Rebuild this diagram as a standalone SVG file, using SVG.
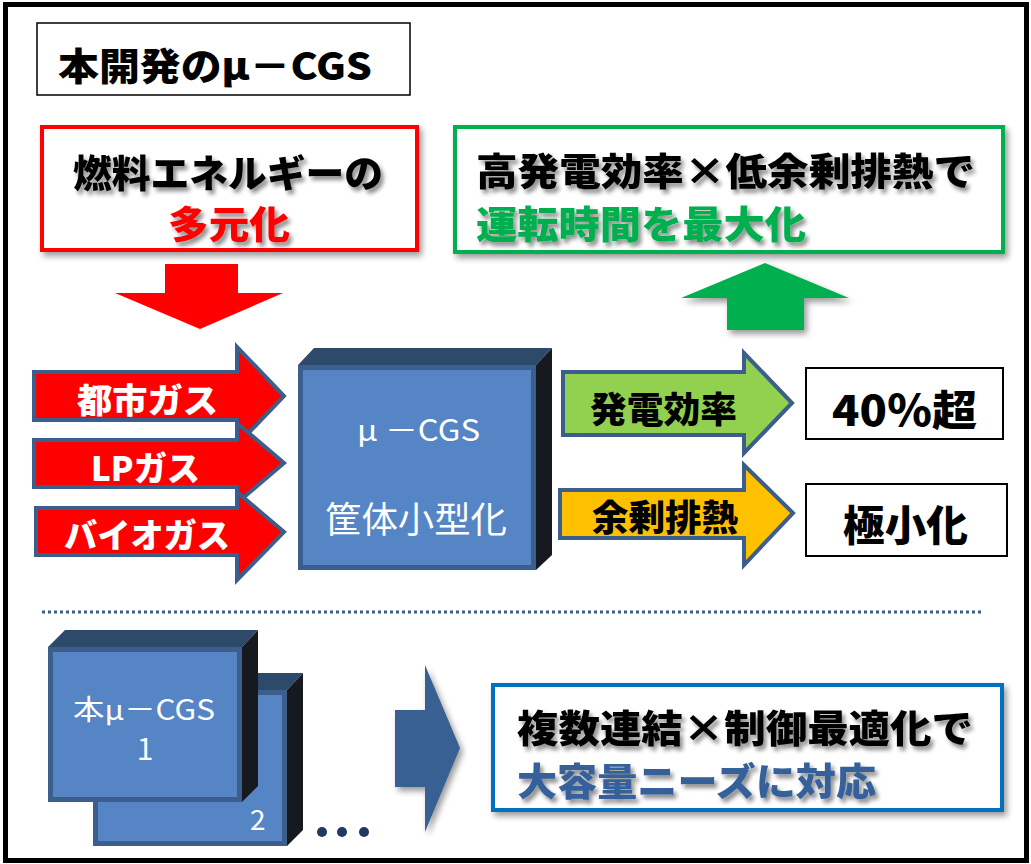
<svg xmlns="http://www.w3.org/2000/svg" width="1031" height="864" viewBox="0 0 1031 864">
<style>
.t{font-family:"Noto Sans CJK JP","Noto Sans",sans-serif;dominant-baseline:central}
.b{font-weight:900}
.w{fill:#fff}
.k{fill:#000}
.arr{stroke:#3B5E8C;stroke-width:4;stroke-linejoin:miter}
.front{fill:#5585C5;stroke:#3B5E8C;stroke-width:5}
.top{fill:#2E4A6B}
.side{fill:#161A20}
</style>
<defs>
<filter id="ts" x="-10%" y="-30%" width="120%" height="170%">
<feGaussianBlur in="SourceAlpha" stdDeviation="2"/>
<feOffset dx="3" dy="4" result="o"/>
<feComponentTransfer><feFuncA type="linear" slope="0.45"/></feComponentTransfer>
<feMerge><feMergeNode/><feMergeNode in="SourceGraphic"/></feMerge>
</filter>
<filter id="bs" x="-10%" y="-20%" width="120%" height="140%">
<feGaussianBlur in="SourceAlpha" stdDeviation="3"/>
<feOffset dx="3" dy="4"/>
<feComponentTransfer><feFuncA type="linear" slope="0.4"/></feComponentTransfer>
<feMerge><feMergeNode/><feMergeNode in="SourceGraphic"/></feMerge>
</filter>
</defs>
<rect x="0" y="0" width="1031" height="864" fill="#fff"/>
<rect id="frame" x="5.5" y="4.5" width="1021" height="856" fill="none" stroke="#000" stroke-width="5"/>

<g id="title">
<rect x="37" y="23" width="373" height="72" fill="#fff" stroke="#000" stroke-width="1.5"/>
<text class="t b k" x="58" y="63" font-size="38" textLength="314" lengthAdjust="spacingAndGlyphs">本開発のμ－CGS</text>
</g>

<g id="fuel-box">
<rect x="42" y="127" width="375" height="123" fill="#fff" stroke="#FF0000" stroke-width="4" filter="url(#bs)"/>
<g filter="url(#ts)">
<text class="t b k" x="73" y="170" font-size="38" textLength="310" lengthAdjust="spacingAndGlyphs">燃料エネルギーの</text>
<text class="t b" x="168" y="221" font-size="38" fill="#FF0000" textLength="122" lengthAdjust="spacingAndGlyphs">多元化</text>
</g>
</g>

<g id="goal-box">
<rect x="455" y="127" width="548" height="125" fill="#fff" stroke="#00B050" stroke-width="4" filter="url(#bs)"/>
<g filter="url(#ts)">
<text class="t b k" x="476" y="168" font-size="38" textLength="499" lengthAdjust="spacingAndGlyphs">高発電効率×低余剰排熱で</text>
<text class="t b" x="476" y="221" font-size="38" fill="#00B050" textLength="330" lengthAdjust="spacingAndGlyphs">運転時間を最大化</text>
</g>
</g>

<g id="connectors">
<polygon id="down-arrow" points="165,264 238,264 238,293 283,293 200,329 115,293 165,293" fill="#FF0000"/>
<polygon id="up-arrow" points="765,263 849,298 804,298 804,330 727,330 727,298 681,298" fill="#00B050" filter="url(#bs)"/>
<polygon id="right-arrow" points="395,710 425,710 425,665 460,748 425,832 425,787 395,787" fill="#376092" filter="url(#bs)"/>
<line id="divider" x1="42" y1="612" x2="982" y2="612" stroke="#3B5E8C" stroke-width="3" stroke-dasharray="3 3"/>
</g>

<g id="arrow-city-gas">
<polygon class="arr" points="34,372 237,372 237,347 284,396 237,445 237,420 34,420" fill="#FF0000"/>
<text class="t b w" x="77" y="398" font-size="34" textLength="141" lengthAdjust="spacingAndGlyphs">都市ガス</text>
</g>
<g id="arrow-lp-gas">
<polygon class="arr" points="34,440 237,440 237,423 284,463 237,503 237,487 34,487" fill="#FF0000"/>
<text class="t b w" x="91" y="466" font-size="34" textLength="109" lengthAdjust="spacingAndGlyphs">LPガス</text>
</g>
<g id="arrow-bio-gas">
<polygon class="arr" points="36,508 237,508 237,492 284,532 237,580 237,555 36,555" fill="#FF0000"/>
<text class="t b w" x="64" y="533" font-size="34" textLength="166" lengthAdjust="spacingAndGlyphs">バイオガス</text>
</g>

<g id="ucgs">
<polygon class="top" points="298,365 314,348 552,348 536,365"/>
<polygon class="side" points="536,365 552,348 552,555 536,570"/>
<rect class="front" x="300.5" y="367.5" width="233" height="200"/>
<text class="t w" x="357" y="428" font-size="30" textLength="123" lengthAdjust="spacingAndGlyphs">μ －CGS</text>
<text class="t w" x="325" y="517" font-size="36" textLength="182" lengthAdjust="spacingAndGlyphs">筐体小型化</text>
</g>

<g id="arrow-efficiency">
<polygon class="arr" points="563,372 744,372 744,353 792,403 744,453 744,435 563,435" fill="#92D050"/>
<text class="t b k" x="590" y="407" font-size="36" textLength="147" lengthAdjust="spacingAndGlyphs">発電効率</text>
</g>
<g id="arrow-heat">
<polygon class="arr" points="560,490 744,490 744,465 793,513 744,565 744,538 560,538" fill="#FFC000"/>
<text class="t b k" x="592" y="515" font-size="36" textLength="146" lengthAdjust="spacingAndGlyphs">余剰排熱</text>
</g>

<g id="result-40">
<rect x="806" y="368" width="197" height="71" fill="#fff" stroke="#000" stroke-width="2"/>
<text class="t b k" x="832" y="407" font-size="42" textLength="145" lengthAdjust="spacingAndGlyphs">40％超</text>
</g>
<g id="result-min">
<rect x="806" y="484" width="201" height="72" fill="#fff" stroke="#000" stroke-width="2"/>
<text class="t b k" x="843" y="522" font-size="42" textLength="125" lengthAdjust="spacingAndGlyphs">極小化</text>
</g>

<g id="unit-2">
<polygon class="top" points="93,690 110,673 303,673 287,690"/>
<polygon class="side" points="287,690 303,673 303,830 287,846"/>
<rect class="front" x="95.5" y="692.5" width="189" height="151"/>
<text class="t w" x="250" y="818" font-size="28">2</text>
</g>
<g id="unit-1">
<polygon class="top" points="48,647 65,630 258,630 242,647"/>
<polygon class="side" points="242,647 258,630 258,786 242,802"/>
<rect class="front" x="50.5" y="649.5" width="189" height="150"/>
<text class="t w" x="73" y="708" font-size="28" textLength="142" lengthAdjust="spacingAndGlyphs">本μ－CGS</text>
<text class="t w" x="145" y="747" font-size="30" text-anchor="middle">1</text>
</g>

<g id="ellipsis" fill="#1F3864">
<circle cx="322" cy="832" r="5"/>
<circle cx="342" cy="832" r="5"/>
<circle cx="364" cy="832" r="5"/>
</g>

<g id="scale-box">
<rect x="493" y="685" width="509" height="125" fill="#fff" stroke="#0070C0" stroke-width="4" filter="url(#bs)"/>
<g filter="url(#ts)">
<text class="t b k" x="517" y="725" font-size="38" textLength="456" lengthAdjust="spacingAndGlyphs">複数連結×制御最適化で</text>
<text class="t b" x="517" y="778" font-size="38" fill="#35619A" textLength="359" lengthAdjust="spacingAndGlyphs">大容量ニーズに対応</text>
</g>
</g>
</svg>
